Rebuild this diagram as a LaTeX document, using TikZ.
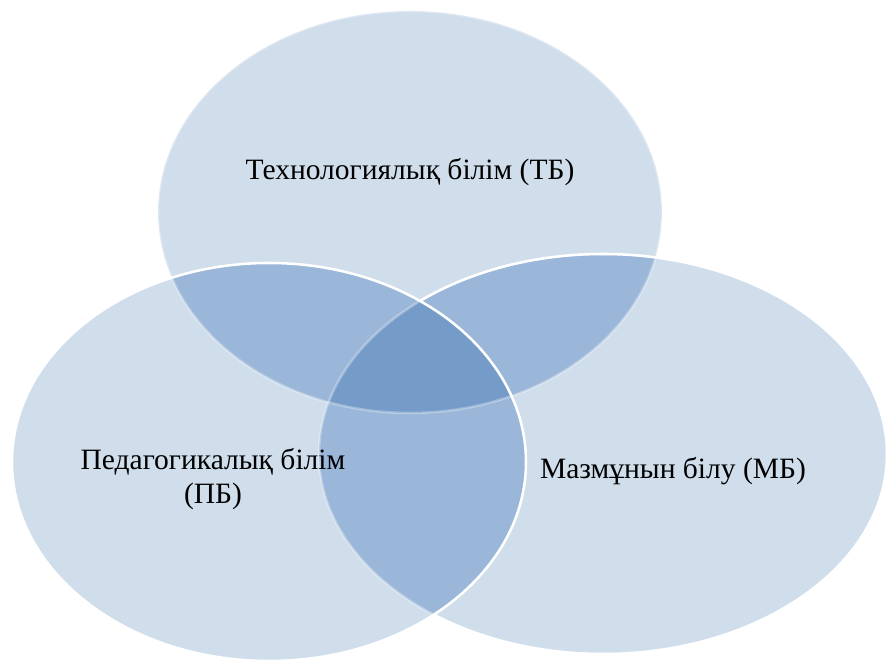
\documentclass[tikz,border=0pt]{standalone}
\usepackage{fontspec}
\setmainfont{Liberation Serif}
\definecolor{vlight}{HTML}{D0DEEC}
\definecolor{vmid}{HTML}{9AB6D8}
\definecolor{vdark}{HTML}{759CC8}
\tikzset{
  every picture/.style={x=0.025cm, y=0.025cm},
  rim/.style={draw=white, line width=1.8pt},
  faintrim/.style={draw=white, draw opacity=0.3, line width=1.8pt},
  vtext/.style={font=\fontsize{21}{24}\selectfont, align=center, text=black, inner sep=0pt},
}
% the three sets
\newcommand\ellT{(410,450) ellipse [x radius=252, y radius=201]}
\newcommand\ellR{(603,208) ellipse [x radius=284, y radius=200]}
\newcommand\ellL{(269,200) ellipse [x radius=257, y radius=199]}

\begin{document}
\begin{tikzpicture}
  \useasboundingbox (0,0) rectangle (888,662);
  % single areas
  \fill[vlight] \ellT; \fill[vlight] \ellR; \fill[vlight] \ellL;
  % two-way overlaps
  \begin{scope}
    \clip \ellT;
    \fill[vmid] \ellR; \fill[vmid] \ellL;
  \end{scope}
  \begin{scope}
    \clip \ellR;
    \fill[vmid] \ellL;
  \end{scope}
  % middle
  \begin{scope}
    \clip \ellT; \clip \ellR;
    \fill[vdark] \ellL;
  \end{scope}
  % outlines
  \draw[faintrim] \ellT;
  \draw[faintrim] \ellR;
  \begin{scope}[even odd rule]
    \clip (-20,-20) rectangle (908,682) \ellL;
    \draw[rim] \ellR;
  \end{scope}
  \draw[rim] \ellL;
  % texts
  \node[vtext] (tb) at (410,490) {Технологиялық білім (ТБ)};
  \node[vtext] (pb) at (213,183) {Педагогикалық білім\\(ПБ)};
  \node[vtext] (mb) at (673,191) {Мазмұнын білу (МБ)};
\end{tikzpicture}
\end{document}
